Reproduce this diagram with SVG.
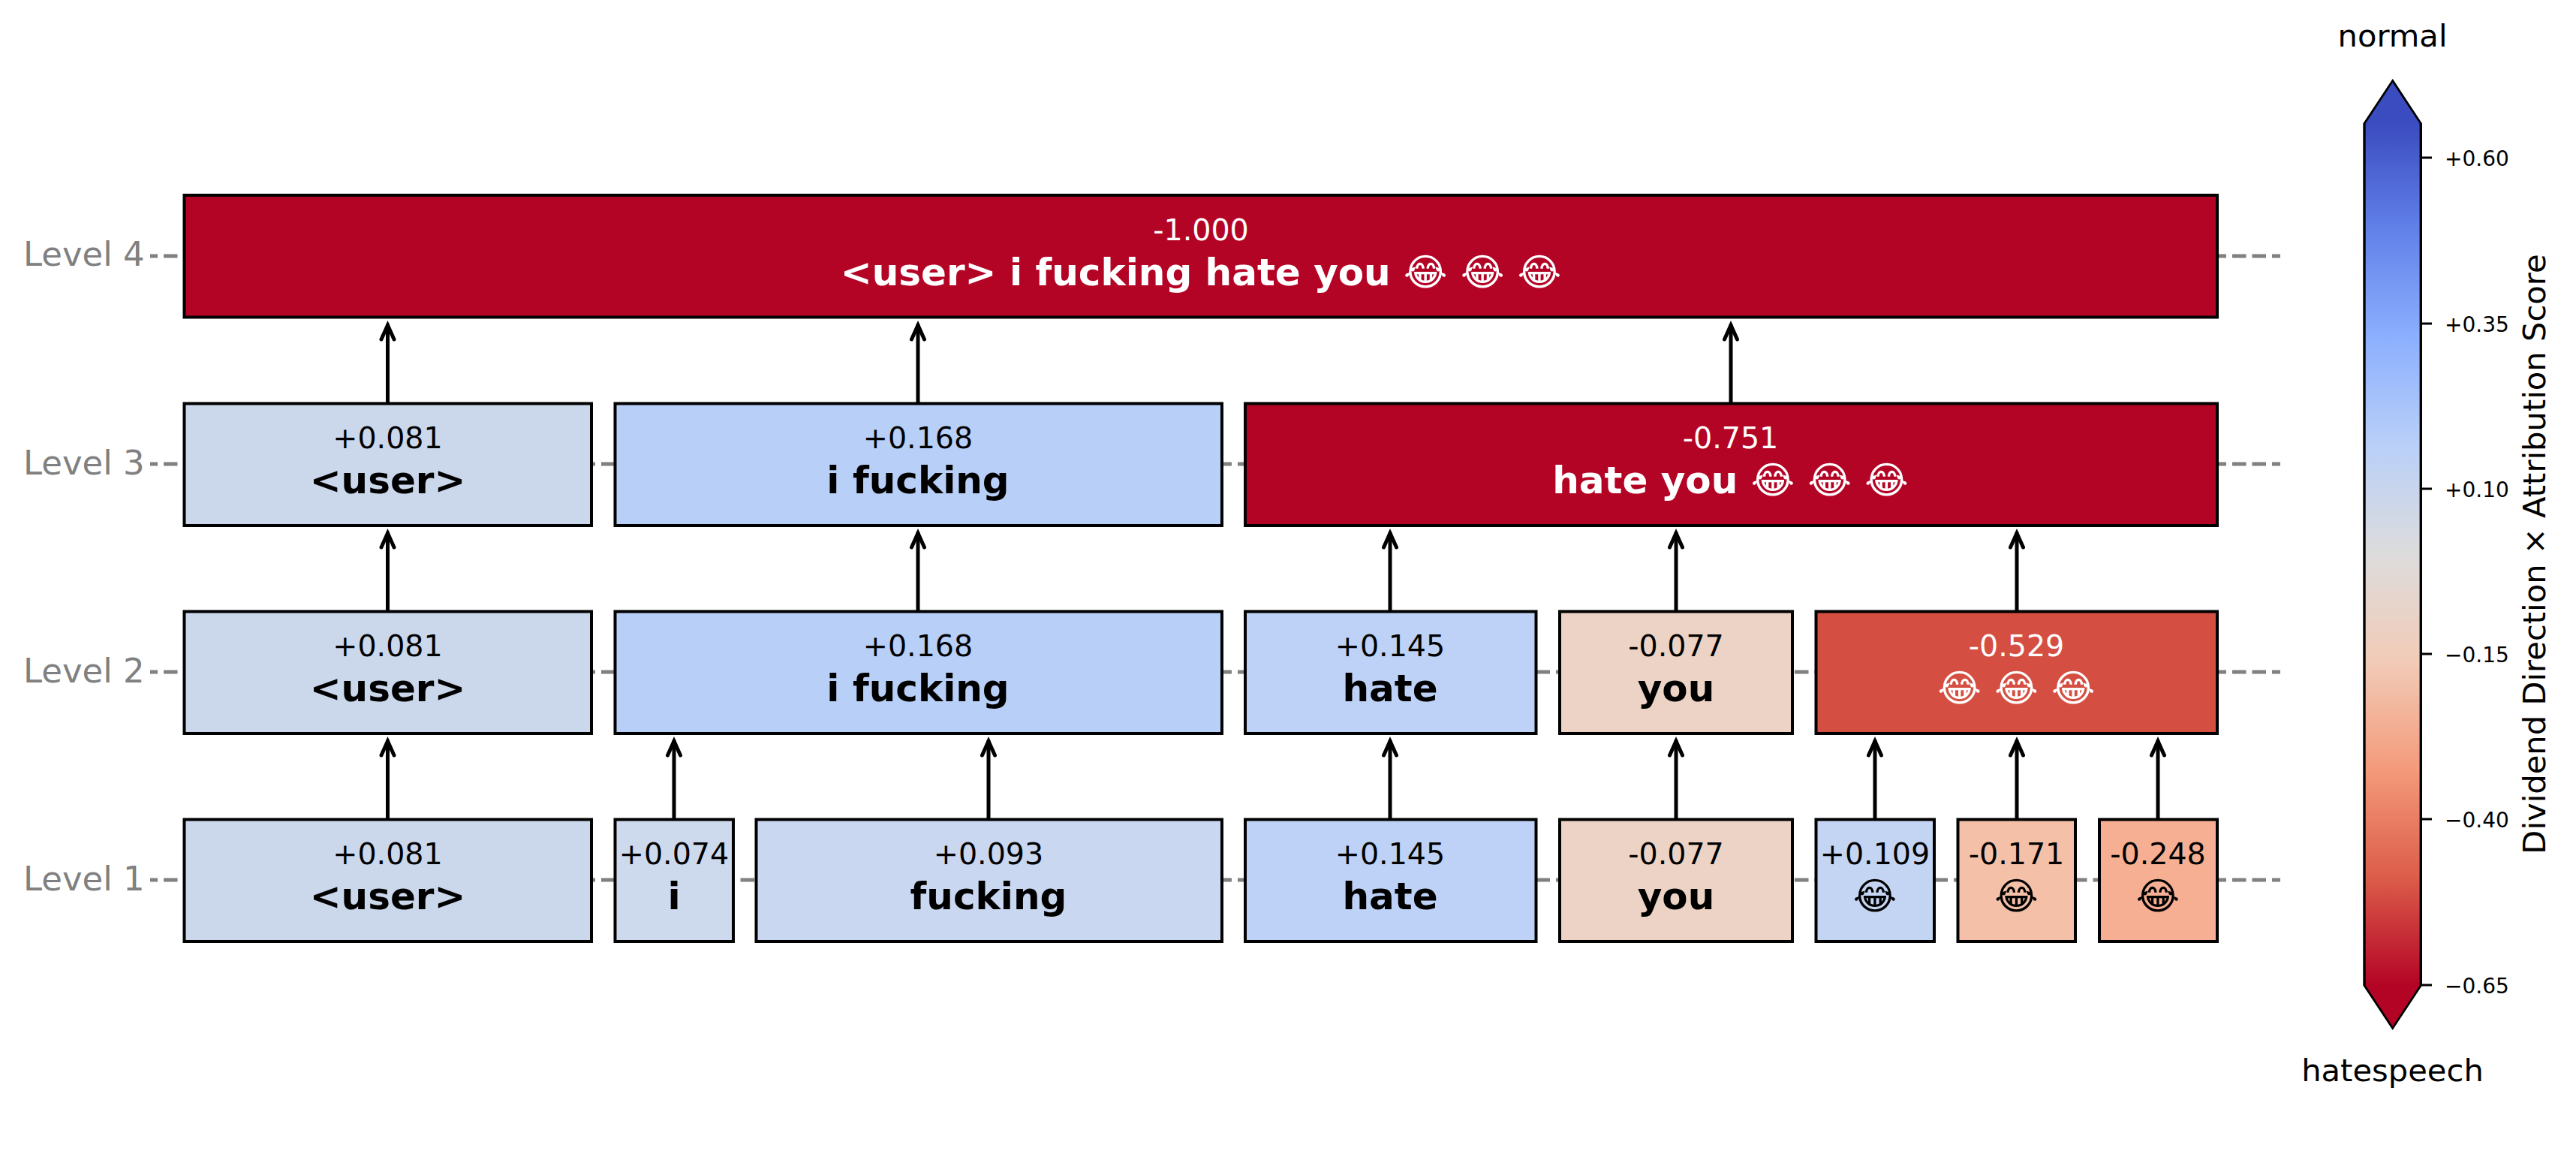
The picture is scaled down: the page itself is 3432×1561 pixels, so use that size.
<svg xmlns="http://www.w3.org/2000/svg" width="3432" height="1561" viewBox="0 0 3432 1561">
<style>
text{font-family:"DejaVu Sans",sans-serif;text-anchor:middle;fill:#000}
.v{font-size:39.6px}
.m{font-size:50px;font-weight:bold}
.w{fill:#fff}
.lv{font-size:45px;fill:#808080;text-anchor:start}
.box{stroke:#000;stroke-width:4}
.guide{stroke:#808080;stroke-width:5;stroke-dasharray:18.5 8;stroke-dashoffset:8.5;fill:none}
.arr{stroke:#000;stroke-width:5;fill:none;stroke-linecap:round;marker-end:url(#head)}
.tk{stroke:#000;stroke-width:3;fill:none}
.tl{font-size:28px;text-anchor:start}
.cb{font-size:41.67px}
</style>
<defs>
<marker id="head" markerUnits="userSpaceOnUse" markerWidth="40" markerHeight="40" viewBox="-30 -15 40 30" refX="0" refY="0" orient="auto" overflow="visible">
<path d="M-19,-8.5 L0,0 L-19,8.5" fill="none" stroke="#000" stroke-width="5" stroke-linecap="round" stroke-linejoin="miter"/>
</marker>
<linearGradient id="cw" gradientUnits="userSpaceOnUse" x1="0" y1="165" x2="0" y2="1312">
<stop offset="0" stop-color="#3b4cc0"/>
<stop offset=".125" stop-color="#6282ea"/>
<stop offset=".25" stop-color="#8db0fe"/>
<stop offset=".375" stop-color="#bad0f8"/>
<stop offset=".5" stop-color="#dddcdc"/>
<stop offset=".625" stop-color="#f2cbb7"/>
<stop offset=".75" stop-color="#f49a7b"/>
<stop offset=".875" stop-color="#dc5d4a"/>
<stop offset="1" stop-color="#b40426"/>
</linearGradient>
</defs>
<rect width="3432" height="1561" fill="#fff"/>
<g id="guides">
<line class="guide" x1="200" x2="3038" y1="341" y2="341"/>
<line class="guide" x1="200" x2="3038" y1="618" y2="618"/>
<line class="guide" x1="200" x2="3038" y1="895" y2="895"/>
<line class="guide" x1="200" x2="3038" y1="1172" y2="1172"/>
</g>
<g id="level-labels">
<text class="lv" x="31" y="354">Level 4</text>
<text class="lv" x="31" y="632">Level 3</text>
<text class="lv" x="31" y="909">Level 2</text>
<text class="lv" x="31" y="1186">Level 1</text>
</g>
<g id="connectors">
<line class="arr" x1="516.5" y1="537" x2="516.5" y2="433"/>
<line class="arr" x1="1223" y1="537" x2="1223" y2="433"/>
<line class="arr" x1="2306" y1="537" x2="2306" y2="433"/>
<line class="arr" x1="516.5" y1="814" x2="516.5" y2="710"/>
<line class="arr" x1="1223" y1="814" x2="1223" y2="710"/>
<line class="arr" x1="1852" y1="814" x2="1852" y2="710"/>
<line class="arr" x1="2233" y1="814" x2="2233" y2="710"/>
<line class="arr" x1="2687" y1="814" x2="2687" y2="710"/>
<line class="arr" x1="516.5" y1="1091" x2="516.5" y2="987"/>
<line class="arr" x1="898" y1="1091" x2="898" y2="987"/>
<line class="arr" x1="1317" y1="1091" x2="1317" y2="987"/>
<line class="arr" x1="1852" y1="1091" x2="1852" y2="987"/>
<line class="arr" x1="2233" y1="1091" x2="2233" y2="987"/>
<line class="arr" x1="2498" y1="1091" x2="2498" y2="987"/>
<line class="arr" x1="2687" y1="1091" x2="2687" y2="987"/>
<line class="arr" x1="2875" y1="1091" x2="2875" y2="987"/>
</g>
<g id="n4-all"><rect class="box" x="245.5" y="260" width="2708.5" height="162.5" fill="#b40426"/><text class="v w" x="1600" y="319.5">-1.000</text><text class="m w" x="1600" y="380">&lt;user&gt; i fucking hate you 😂 😂 😂</text></g>
<g id="n3-user"><rect class="box" x="245.5" y="537.5" width="542.5" height="162.5" fill="#cbd8ec"/><text class="v" x="516.5" y="596.5">+0.081</text><text class="m" x="516.5" y="657">&lt;user&gt;</text></g>
<g id="n3-ifucking"><rect class="box" x="819.5" y="537.5" width="808.5" height="162.5" fill="#b8cff8"/><text class="v" x="1223" y="596.5">+0.168</text><text class="m" x="1223" y="657">i fucking</text></g>
<g id="n3-hateyou"><rect class="box" x="1659" y="537.5" width="1295" height="162.5" fill="#b40426"/><text class="v w" x="2305.5" y="596.5">-0.751</text><text class="m w" x="2305.5" y="657">hate you 😂 😂 😂</text></g>
<g id="n2-user"><rect class="box" x="245.5" y="814.5" width="542.5" height="162.5" fill="#cbd8ec"/><text class="v" x="516.5" y="873.5">+0.081</text><text class="m" x="516.5" y="934">&lt;user&gt;</text></g>
<g id="n2-ifucking"><rect class="box" x="819.5" y="814.5" width="808.5" height="162.5" fill="#b8cff8"/><text class="v" x="1223" y="873.5">+0.168</text><text class="m" x="1223" y="934">i fucking</text></g>
<g id="n2-hate"><rect class="box" x="1659" y="814.5" width="387.5" height="162.5" fill="#bdd2f6"/><text class="v" x="1852" y="873.5">+0.145</text><text class="m" x="1852" y="934">hate</text></g>
<g id="n2-you"><rect class="box" x="2078" y="814.5" width="310" height="162.5" fill="#ecd3c5"/><text class="v" x="2233" y="873.5">-0.077</text><text class="m" x="2233" y="934">you</text></g>
<g id="n2-emoji"><rect class="box" x="2419.5" y="814.5" width="534.5" height="162.5" fill="#d44e41"/><text class="v w" x="2686.5" y="873.5">-0.529</text><text class="m w" x="2686.5" y="934">😂 😂 😂</text></g>
<g id="n1-user"><rect class="box" x="245.5" y="1091.5" width="542.5" height="162.5" fill="#cbd8ec"/><text class="v" x="516.5" y="1150.5">+0.081</text><text class="m" x="516.5" y="1211">&lt;user&gt;</text></g>
<g id="n1-i"><rect class="box" x="819.5" y="1091.5" width="157.5" height="162.5" fill="#cdd9ec"/><text class="v" x="898" y="1150.5">+0.074</text><text class="m" x="898" y="1211">i</text></g>
<g id="n1-fucking"><rect class="box" x="1007.5" y="1091.5" width="620.5" height="162.5" fill="#c9d7f0"/><text class="v" x="1317" y="1150.5">+0.093</text><text class="m" x="1317" y="1211">fucking</text></g>
<g id="n1-hate"><rect class="box" x="1659" y="1091.5" width="387.5" height="162.5" fill="#bdd2f6"/><text class="v" x="1852" y="1150.5">+0.145</text><text class="m" x="1852" y="1211">hate</text></g>
<g id="n1-you"><rect class="box" x="2078" y="1091.5" width="310" height="162.5" fill="#ecd3c5"/><text class="v" x="2233" y="1150.5">-0.077</text><text class="m" x="2233" y="1211">you</text></g>
<g id="n1-e1"><rect class="box" x="2419.5" y="1091.5" width="157.5" height="162.5" fill="#c4d5f3"/><text class="v" x="2498" y="1150.5">+0.109</text><text class="m" x="2498" y="1211">😂</text></g>
<g id="n1-e2"><rect class="box" x="2608.5" y="1091.5" width="156.5" height="162.5" fill="#f4c0a7"/><text class="v" x="2686.5" y="1150.5">-0.171</text><text class="m" x="2686.5" y="1211">😂</text></g>
<g id="n1-e3"><rect class="box" x="2797" y="1091.5" width="157" height="162.5" fill="#f6af92"/><text class="v" x="2875" y="1150.5">-0.248</text><text class="m" x="2875" y="1211">😂</text></g>
<g id="colorbar">
<polygon points="3187.7,108 3225.3,165 3225.3,1312 3187.7,1369 3150,1312 3150,165" fill="url(#cw)" stroke="#000" stroke-width="3.4"/>
<polygon points="3187.7,110 3224,165 3151.4,165" fill="#3b4cc0"/>
<polygon points="3187.7,1367 3224,1312 3151.4,1312" fill="#b40426"/>
<path class="tk" d="M3226,210H3240M3226,431H3240M3226,651H3240M3226,871H3240M3226,1091H3240M3226,1312H3240"/>
<text class="tl" x="3257" y="221">+0.60</text>
<text class="tl" x="3257" y="442">+0.35</text>
<text class="tl" x="3257" y="662">+0.10</text>
<text class="tl" x="3257" y="882">−0.15</text>
<text class="tl" x="3257" y="1102">−0.40</text>
<text class="tl" x="3257" y="1323">−0.65</text>
<text class="cb" x="3187.5" y="62">normal</text>
<text class="cb" x="3187.5" y="1440">hatespeech</text>
<text class="cb" transform="translate(3391 738) rotate(-90)">Dividend Direction × Attribution Score</text>
</g>
</svg>
